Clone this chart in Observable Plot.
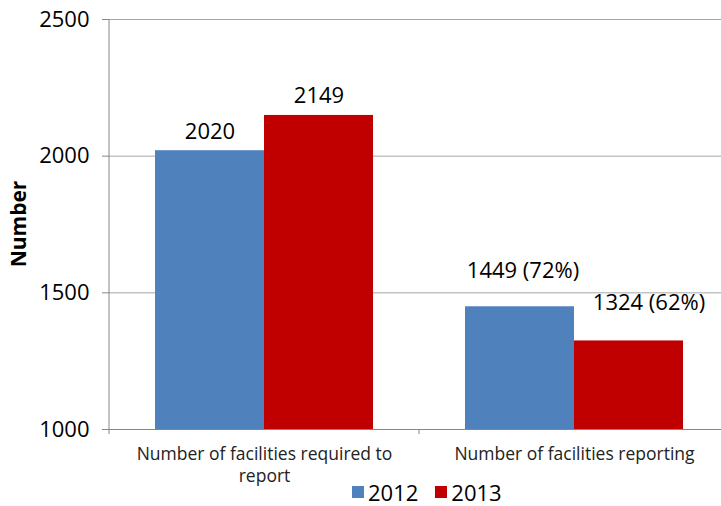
<!DOCTYPE html>
<html>
<head>
<meta charset="utf-8">
<script src="https://cdn.jsdelivr.net/npm/d3@7"></script>
<script src="https://cdn.jsdelivr.net/npm/@observablehq/plot@0.6"></script>
<style>
  html, body { margin: 0; padding: 0; background: #fff; overflow: hidden; }
  #wrap { width: 721px; overflow: hidden; font-family: "Open Sans", sans-serif; }
  #wrap svg { max-width: none !important; display: block; }
  #legend { display: flex; align-items: center; height: 28px; line-height: 24px; padding-left: 352px; font-size: 22px; color: #000; }
  #legend .item { display: flex; align-items: center; margin-right: 17px; }
  #legend .sw { width: 12px; height: 12px; margin-right: 4px; }
</style>
</head>
<body>
<div id="wrap"></div>
<script>
const categories = ["Number of facilities required to report", "Number of facilities reporting"];
const years = ["2012", "2013"];
const values2012 = [2020, 1449];
const values2013 = [2149, 1324];
const labels2012 = ["2020", "1449 (72%)"];
const labels2013 = ["2149", "1324 (62%)"];
const yTicks = [1000, 1500, 2000, 2500];
const baseline = 1000;
const colors = ["#4F81BD", "#C00000"];
const yLabel = "Number";

const data = categories.flatMap((c, i) => [
  {category: c, year: years[0], value: values2012[i], label: labels2012[i], ci: i},
  {category: c, year: years[1], value: values2013[i], label: labels2013[i], ci: i}
]);

const axisGray = "#868686";
const textStyle = {fontSize: 22, fill: "#000", lineAnchor: "middle"};

const chart = Plot.plot({
  width: 729,
  height: 478,
  marginLeft: 108,
  marginRight: 0,
  marginTop: 19,
  marginBottom: 49,
  facet: {marginTop: 0, marginBottom: 0, marginLeft: 0, marginRight: 0},
  style: {fontFamily: "'Open Sans', sans-serif", background: "#fff", color: "#000", overflow: "visible"},
  fx: {domain: categories, padding: 0, label: null, axis: null},
  x: {domain: years, paddingInner: 0, paddingOuter: 0.42, axis: null},
  y: {domain: [yTicks[0], yTicks[yTicks.length - 1]], label: null},
  color: {domain: years, range: colors},
  marks: [
    Plot.gridY(yTicks, {stroke: "#a6a6a6", strokeOpacity: 1}),
    Plot.barY(data, {fx: "category", x: "year", y1: baseline, y2: "value", fill: "year"}),
    Plot.ruleY([baseline], {stroke: axisGray}),
    Plot.axisY(yTicks, {tickSize: 7, tickPadding: 13, fontSize: 22, stroke: axisGray, label: null, tickFormat: d => String(d)}),
    Plot.axisFx({anchor: "bottom", tickSize: 0, tickPadding: 14, fontSize: 17.5, lineWidth: 17, lineHeight: 1.3, label: null, fill: "#222"}),
    Plot.text(data.filter(d => d.ci === 0), {fx: "category", x: "year", y: "value", text: "label", dy: -19, ...textStyle}),
    Plot.text(data.filter(d => d.ci === 1 && d.year === years[0]), {fx: "category", x: "year", y: "value", text: "label", dy: -36, dx: 3, ...textStyle}),
    Plot.text(data.filter(d => d.ci === 1 && d.year === years[1]), {fx: "category", x: "year", y: "value", text: "label", dy: -38, dx: 20, ...textStyle})
  ]
});

document.getElementById("wrap").appendChild(chart);

// axis line and category divider ticks using the chart's scales
const svg = d3.select(chart);
const fx = chart.scale("fx");
const y = chart.scale("y");
const yTop = y.apply(yTicks[yTicks.length - 1]);
const yBot = y.apply(baseline);
const x0 = fx.apply(categories[0]);
svg.append("line").attr("x1", x0).attr("x2", x0).attr("y1", yTop).attr("y2", yBot + 5)
  .attr("stroke", axisGray);
categories.slice(1).forEach(c => {
  const xb = fx.apply(c);
  svg.append("line").attr("x1", xb).attr("x2", xb).attr("y1", yBot).attr("y2", yBot + 5)
    .attr("stroke", axisGray);
});
svg.append("text")
  .attr("transform", `translate(20,${(yTop + yBot) / 2}) rotate(-90)`)
  .attr("text-anchor", "middle").attr("dominant-baseline", "middle")
  .attr("font-weight", "bold").attr("font-size", 21).attr("fill", "#000")
  .text(yLabel);

// legend from the color scale
const color = chart.scale("color");
const legend = d3.select("#wrap").append("div").attr("id", "legend");
color.domain.forEach((v, i) => {
  const item = legend.append("div").attr("class", "item");
  item.append("div").attr("class", "sw").style("background", color.range[i]);
  item.append("span").text(v);
});
</script>
</body>
</html>
